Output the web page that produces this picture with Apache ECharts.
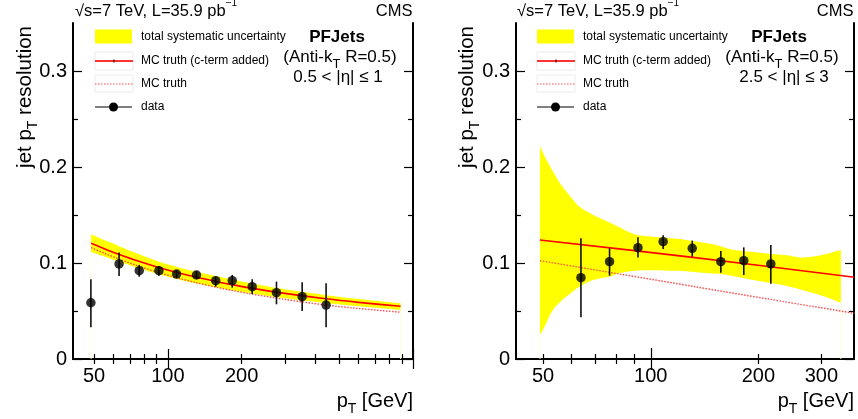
<!DOCTYPE html>
<html><head><meta charset="utf-8">
<script src="https://cdn.jsdelivr.net/npm/echarts@6/dist/echarts.min.js"></script>
<style>html,body{margin:0;padding:0;background:#fff}#c{width:858px;height:419px}</style>
</head><body><div id="c"></div>
<script>
// ---------- Left panel: 0.5 < |eta| <= 1 ----------
const bandXL   = [48.6, 55, 63, 75, 91, 110, 131, 160, 182, 216, 300, 442, 600, 890];
const bandUpL  = [0.1300, 0.1239, 0.1178, 0.1098, 0.1018, 0.0956, 0.0908, 0.0859, 0.0830, 0.0789, 0.0727, 0.0665, 0.0625, 0.0581];
const bandLoL  = [0.1118, 0.1067, 0.1015, 0.0950, 0.0886, 0.0831, 0.0787, 0.0742, 0.0716, 0.0686, 0.0634, 0.0584, 0.0550, 0.0511];
const mcXL     = [48.6, 55, 63, 75, 91, 110, 131, 160, 182, 216, 300, 442, 600, 890];
const mcCtermL = [0.1205, 0.1149, 0.1091, 0.1023, 0.0956, 0.0898, 0.0851, 0.0803, 0.0775, 0.0741, 0.0684, 0.0627, 0.0590, 0.0549];
const mcTruthL = [0.1160, 0.1102, 0.1042, 0.0972, 0.0903, 0.0843, 0.0794, 0.0744, 0.0715, 0.0680, 0.0621, 0.0562, 0.0526, 0.0487];
const dataXL   = [48.5, 63.2, 76.4, 91.9, 108.5, 130.8, 156.7, 183, 220.7, 277.3, 353, 442];
const dataYL   = [0.0586, 0.099, 0.092, 0.092, 0.0885, 0.0875, 0.0816, 0.0816, 0.0753, 0.0691, 0.0649, 0.0562];
const dataLoL  = [0.033, 0.0865, 0.0857, 0.0868, 0.0845, 0.0835, 0.0754, 0.0743, 0.0677, 0.057, 0.050, 0.033];
const dataHiL  = [0.083, 0.111, 0.098, 0.0969, 0.0925, 0.0915, 0.0858, 0.0875, 0.083, 0.0806, 0.0799, 0.0788];

// ---------- Right panel: 2.5 < |eta| <= 3 ----------
const bandXR   = [49, 51, 53, 56, 60, 63, 69, 77, 82, 90, 100, 112, 123, 148, 158, 172, 205, 240, 265, 301, 340];
const bandUpR  = [0.222, 0.208, 0.197, 0.182, 0.168, 0.159, 0.150, 0.142, 0.137, 0.130, 0.1275, 0.126, 0.1245, 0.1198, 0.117, 0.1135, 0.1105, 0.108, 0.1056, 0.1083, 0.1135];
const bandLoR  = [0.025, 0.037, 0.050, 0.060, 0.069, 0.075, 0.0823, 0.086, 0.0895, 0.092, 0.0925, 0.092, 0.0917, 0.089, 0.0882, 0.086, 0.0806, 0.076, 0.0719, 0.066, 0.0587];
const mcXR     = [49, 133, 371];
const mcCtermR = [0.124, 0.1056, 0.0851];
const mcTXR    = [49, 81.8, 133, 213, 371];
const mcTruthR = [0.1024, 0.0885, 0.0753, 0.0625, 0.0476];
const dataXR   = [63.8, 76.7, 92.1, 108.3, 130.6, 157, 182, 216.6];
const dataYR   = [0.0847, 0.1014, 0.116, 0.1222, 0.1153, 0.1014, 0.1024, 0.099];
const dataLoR  = [0.0434, 0.0868, 0.1056, 0.1146, 0.1066, 0.0899, 0.0875, 0.0785];
const dataHiR  = [0.1257, 0.1153, 0.1268, 0.129, 0.1233, 0.1125, 0.1163, 0.1188];

// ---------- Axis ticks / labels ----------
const xLabelsL = [50, 100, 200];
const xLabelsR = [50, 100, 200, 300];
const xMajorL = [100, 1000];
const xMinorL = [50, 60, 70, 80, 90, 200, 300, 400, 500, 600, 700, 800, 900];
const xMajorR = [100];
const xMinorR = [50, 60, 70, 80, 90, 200, 300];
const yLabels = [0, 0.1, 0.2, 0.3];
const yMinor = [0.05, 0.15, 0.25];

const FONT = '"Liberation Sans", Arial, Helvetica, sans-serif';
const chart = echarts.init(document.getElementById('c'), null, {renderer: 'canvas'});

const grids = [
  {left: 73, right: 445, top: 23, bottom: 60, outerBoundsMode: 'none', containLabel: false},
  {left: 516, right: 4, top: 23, bottom: 60, outerBoundsMode: 'none', containLabel: false}
];

function xAx(g, min, max, pos, ticks, len, labels, line) {
  return {
    type: 'log', logBase: 10, gridIndex: g, min, max, position: pos,
    axisLine: {show: line, lineStyle: {color: '#000', width: 2}},
    axisTick: {show: true, inside: true, length: len, customValues: ticks, lineStyle: {color: '#000', width: 1.2}},
    axisLabel: labels ? {show: true, customValues: labels, fontSize: 20, color: '#000', fontFamily: FONT, margin: 7, formatter: v => String(v)} : {show: false},
    splitLine: {show: false}, minorTick: {show: false}
  };
}
function yAx(g, pos, ticks, len, labels, line) {
  return {
    type: 'value', gridIndex: g, min: 0, max: 0.35, position: pos,
    axisLine: {show: line, onZero: false, lineStyle: {color: '#000', width: 2}},
    axisTick: {show: true, inside: true, length: len, customValues: ticks, lineStyle: {color: '#000', width: 1.2}},
    axisLabel: labels ? {show: true, customValues: labels, fontSize: 20, color: '#000', fontFamily: FONT, margin: 6, formatter: v => String(v)} : {show: false},
    splitLine: {show: false}
  };
}

const xAxes = [
  xAx(0, 41, 1000, 'bottom', xMajorL, 10, xLabelsL, true),
  xAx(0, 41, 1000, 'bottom', xMinorL, 5, null, false),
  xAx(0, 41, 1000, 'top', xMajorL, 10, null, true),
  xAx(0, 41, 1000, 'top', xMinorL, 5, null, false),
  xAx(1, 42, 370, 'bottom', xMajorR, 11, xLabelsR, true),
  xAx(1, 42, 370, 'bottom', xMinorR, 5, null, false),
  xAx(1, 42, 370, 'top', xMajorR, 11, null, true),
  xAx(1, 42, 370, 'top', xMinorR, 5, null, false)
];
const yAxes = [
  yAx(0, 'left', yLabels, 9, yLabels, true),
  yAx(0, 'left', yMinor, 5, null, false),
  yAx(0, 'right', yLabels, 9, null, true),
  yAx(0, 'right', yMinor, 5, null, false),
  yAx(1, 'left', yLabels, 9, yLabels, true),
  yAx(1, 'left', yMinor, 5, null, false),
  yAx(1, 'right', yLabels, 9, null, true),
  yAx(1, 'right', yMinor, 5, null, false)
];

function zip(xs, ys) { return xs.map((x, i) => [x, ys[i]]); }

// Catmull-Rom smoothing of already-projected pixel points (rendering only)
function crSegs(p) {
  let d = '';
  for (let i = 0; i < p.length - 1; i++) {
    const p0 = p[i - 1] || p[i], p1 = p[i], p2 = p[i + 1], p3 = p[i + 2] || p[i + 1];
    const c1 = [p1[0] + (p2[0] - p0[0]) / 6, p1[1] + (p2[1] - p0[1]) / 6];
    const c2 = [p2[0] - (p3[0] - p1[0]) / 6, p2[1] - (p3[1] - p1[1]) / 6];
    d += ' C' + c1[0] + ' ' + c1[1] + ' ' + c2[0] + ' ' + c2[1] + ' ' + p2[0] + ' ' + p2[1];
  }
  return d;
}

function panelSeries(ax, bx, bup, blo, mx, mc, tx, mt, dx, dy, dlo, dhi) {
  return [
    {type: 'custom', xAxisIndex: ax, yAxisIndex: ax, z: 1, silent: true, clip: true,
     data: [[bx[0], blo[0]]], encode: {x: 0, y: 1},
     renderItem: (params, api) => {
       const up = bx.map((x, i) => api.coord([x, bup[i]]));
       const lo = bx.map((x, i) => api.coord([x, blo[i]])).reverse();
       const d = 'M' + up[0][0] + ' ' + up[0][1] + crSegs(up) + ' L' + lo[0][0] + ' ' + lo[0][1] + crSegs(lo) + ' Z';
       const b0 = api.coord([bx[0], 0]), b1 = api.coord([bx[bx.length - 1], 0]);
       const n = lo.length - 1;
       return {type: 'group', children: [
         {type: 'line', shape: {x1: b0[0], y1: lo[n][1], x2: b0[0], y2: b0[1]}, style: {stroke: '#fffbd8', lineWidth: 1}},
         {type: 'line', shape: {x1: b1[0], y1: lo[0][1], x2: b1[0], y2: b1[1]}, style: {stroke: '#fffbd8', lineWidth: 1}},
         {type: 'path', shape: {pathData: d}, style: {fill: '#ffff00', stroke: null}}
       ]};
     }},
    {type: 'line', xAxisIndex: ax, yAxisIndex: ax, z: 3, data: zip(tx, mt), symbol: 'none', smooth: 0.3,
     lineStyle: {color: '#ff4a4a', width: 1.4, type: [1.5, 1.5]}, silent: true},
    {type: 'line', xAxisIndex: ax, yAxisIndex: ax, z: 3, data: zip(mx, mc), symbol: 'none', smooth: 0.3,
     lineStyle: {color: '#ff0000', width: 1.6}, silent: true},
    {type: 'custom', xAxisIndex: ax, yAxisIndex: ax, z: 4, data: dx.map((x, i) => [x, dlo[i], dhi[i]]),
     encode: {x: 0, y: [1, 2]}, silent: true,
     renderItem: (params, api) => {
       const p1 = api.coord([api.value(0), api.value(1)]);
       const p2 = api.coord([api.value(0), api.value(2)]);
       return {type: 'line', shape: {x1: p1[0], y1: p1[1], x2: p2[0], y2: p2[1]}, style: {stroke: '#111', lineWidth: 1.6}};
     }},
    {type: 'scatter', xAxisIndex: ax, yAxisIndex: ax, z: 5, data: zip(dx, dy), symbol: 'circle', symbolSize: 9.5,
     itemStyle: {color: '#000'}, silent: true}
  ];
}

const series = [].concat(
  panelSeries(0, bandXL, bandUpL, bandLoL, mcXL, mcCtermL, mcXL, mcTruthL, dataXL, dataYL, dataLoL, dataHiL),
  panelSeries(4, bandXR, bandUpR, bandLoR, mcXR, mcCtermR, mcTXR, mcTruthR, dataXR, dataYR, dataLoR, dataHiR)
);

function T(x, y, text, size, extra) {
  return {type: 'text', x, y, silent: true, z: 100,
    style: Object.assign({text, fontSize: size, fontFamily: FONT, fill: '#000', align: 'left', verticalAlign: 'middle'}, extra || {})};
}
const subRich = (size, sub) => ({
  m: {fontSize: size, fontFamily: FONT, lineHeight: size + 10, fill: '#000'},
  s: {fontSize: sub, fontFamily: FONT, lineHeight: sub, verticalAlign: 'bottom', fill: '#000'},
  u: {fontSize: sub, fontFamily: FONT, lineHeight: sub, verticalAlign: 'top', fill: '#000'}
});

function panelGraphics(dx, etaText, gridRight) {
  const g = [];
  g.push(T(75 + dx, 11.5, '{m|√s=7 TeV, L=35.9 pb}{u|−1}', 16.5, {rich: subRich(16.5, 10)}));
  g.push(T(gridRight, 11.5, 'CMS', 16.5, {align: 'right'}));
  // legend
  g.push({type: 'rect', silent: true, shape: {x: 95 + dx, y: 29.5, width: 37, height: 14}, style: {fill: '#ffff00'}});
  g.push({type: 'rect', silent: true, shape: {x: 95 + dx, y: 52, width: 38, height: 18}, style: {fill: 'none', stroke: '#ececec', lineWidth: 1}});
  g.push({type: 'line', silent: true, shape: {x1: 95 + dx, y1: 61, x2: 133 + dx, y2: 61}, style: {stroke: '#ff3333', lineWidth: 2}});
  g.push({type: 'line', silent: true, shape: {x1: 114 + dx, y1: 59.5, x2: 114 + dx, y2: 62.5}, style: {stroke: '#000', lineWidth: 1}});
  g.push({type: 'rect', silent: true, shape: {x: 95 + dx, y: 75, width: 38, height: 17}, style: {fill: 'none', stroke: '#ececec', lineWidth: 1}});
  g.push({type: 'line', silent: true, shape: {x1: 95 + dx, y1: 84, x2: 133 + dx, y2: 84}, style: {stroke: '#ff5050', lineWidth: 1.2, lineDash: [1.5, 1.5]}});
  g.push({type: 'line', silent: true, shape: {x1: 95 + dx, y1: 107, x2: 132 + dx, y2: 107}, style: {stroke: '#000', lineWidth: 1.2}});
  g.push({type: 'circle', silent: true, shape: {cx: 113.5 + dx, cy: 107, r: 4.5}, style: {fill: '#000'}});
  g.push(T(141 + dx, 37, 'total systematic uncertainty', 12));
  g.push(T(141 + dx, 61, 'MC truth (c-term added)', 12));
  g.push(T(141 + dx, 84, 'MC truth', 12));
  g.push(T(141 + dx, 107, 'data', 12));
  // labels
  g.push(T(337 + dx, 37, 'PFJets', 17, {align: 'center', fontWeight: 'bold'}));
  g.push(T(340 + dx, 57, '{m|(Anti-k}{s|T}{m| R=0.5)}', 17, {align: 'center', rich: subRich(17, 13)}));
  g.push(T(338 + dx + (dx ? 4 : 0), 77, etaText, 17, {align: 'center'}));
  // axis titles
  g.push({type: 'text', silent: true, x: 25 + dx, y: 26, rotation: Math.PI / 2, z: 100,
    style: {text: '{m|jet p}{s|T}{m| resolution}', rich: subRich(20.5, 14), align: 'right', verticalAlign: 'middle', fontFamily: FONT}});
  g.push(T(gridRight + 0.5, 401, '{m|p}{s|T}{m| [GeV]}', 20, {align: 'right', rich: subRich(20, 14)}));
  return g;
}

const graphic = [].concat(
  panelGraphics(0, '0.5 < |η| ≤ 1', 412.5),
  panelGraphics(442, '2.5 < |η| ≤ 3', 853.5)
);

chart.setOption({
  animation: false,
  backgroundColor: '#fff',
  grid: grids,
  xAxis: xAxes,
  yAxis: yAxes,
  series,
  graphic
});
</script>
</body></html>
